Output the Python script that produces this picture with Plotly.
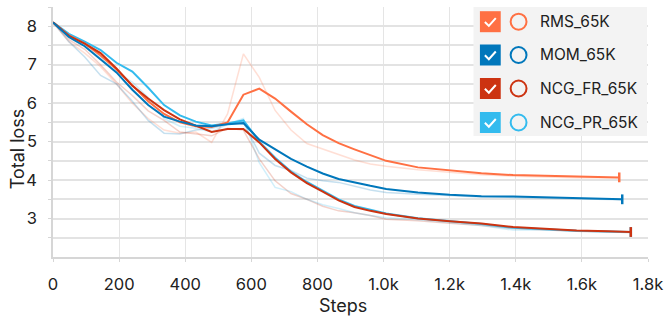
import plotly.graph_objects as go

# ---------------- data ----------------
steps = [0, 48, 96, 144, 192, 240, 288, 336, 384, 432, 480, 528, 576, 624, 672,
         720, 768, 816, 864, 912, 960, 1008, 1104, 1200, 1296, 1392, 1488, 1584, 1680]
last_step = {"RMS_65K": 1713, "MOM_65K": 1722, "NCG_FR_65K": 1748, "NCG_PR_65K": 1748}

rms_smooth = [8.1, 7.76, 7.55, 7.24, 6.88, 6.47, 6.05, 5.72, 5.5, 5.4, 5.38, 5.5, 6.22, 6.38, 6.12,
              5.78, 5.45, 5.17, 4.96, 4.8, 4.65, 4.5, 4.33, 4.25, 4.18, 4.13, 4.11, 4.08, 4.07, 4.07]
mom_smooth = [8.1, 7.72, 7.48, 7.13, 6.8, 6.35, 5.95, 5.65, 5.52, 5.42, 5.4, 5.45, 5.48, 5.05, 4.8,
              4.55, 4.35, 4.17, 4.03, 3.93, 3.85, 3.77, 3.68, 3.62, 3.58, 3.57, 3.55, 3.53, 3.5, 3.5]
fr_smooth = [8.1, 7.75, 7.55, 7.3, 6.9, 6.45, 6.12, 5.82, 5.58, 5.42, 5.25, 5.33, 5.33, 4.98, 4.55,
             4.2, 3.92, 3.7, 3.47, 3.3, 3.2, 3.12, 3.0, 2.93, 2.87, 2.78, 2.73, 2.69, 2.67, 2.65]
pr_smooth = [8.1, 7.8, 7.6, 7.38, 7.05, 6.82, 6.4, 5.95, 5.68, 5.52, 5.42, 5.47, 5.55, 5.0, 4.58,
             4.22, 3.95, 3.72, 3.5, 3.33, 3.22, 3.13, 3.01, 2.93, 2.86, 2.76, 2.72, 2.68, 2.66, 2.65]

rms_raw = [8.1, 7.6, 7.3, 6.95, 6.5, 6.0, 5.6, 5.3, 5.22, 5.25, 4.98, 5.72, 7.28, 6.67, 5.81,
           5.3, 4.95, 4.8, 4.66, 4.52, 4.42, 4.36, 4.27, 4.2, 4.14, 4.1, 4.08, 4.06, 4.06, 4.06]
mom_raw = [8.1, 7.6, 7.2, 6.72, 6.5, 6.05, 5.55, 5.22, 5.2, 5.3, 5.35, 5.45, 5.5, 4.7, 4.38,
           4.25, 4.05, 3.98, 3.94, 3.85, 3.74, 3.68, 3.63, 3.6, 3.56, 3.55, 3.53, 3.51, 3.49, 3.49]
fr_raw = [8.1, 7.65, 7.4, 7.0, 6.55, 6.2, 5.8, 5.55, 5.25, 5.2, 5.15, 5.35, 5.3, 4.55, 3.98,
          3.65, 3.5, 3.32, 3.2, 3.15, 3.08, 2.98, 2.94, 2.88, 2.82, 2.74, 2.7, 2.67, 2.65, 2.64]
pr_raw = [8.1, 7.7, 7.5, 7.2, 6.8, 6.55, 6.15, 5.6, 5.4, 5.35, 5.25, 5.45, 5.6, 4.45, 3.81,
          3.7, 3.5, 3.36, 3.26, 3.15, 3.08, 3.02, 2.97, 2.9, 2.82, 2.7, 2.71, 2.67, 2.65, 2.64]

series_names = ["RMS_65K", "MOM_65K", "NCG_FR_65K", "NCG_PR_65K"]
series_colors = ["#ff7043", "#0077bb", "#cc3311", "#33bbee"]
smooth_vals = {"RMS_65K": rms_smooth, "MOM_65K": mom_smooth,
               "NCG_FR_65K": fr_smooth, "NCG_PR_65K": pr_smooth}
raw_vals = {"RMS_65K": rms_raw, "MOM_65K": mom_raw,
            "NCG_FR_65K": fr_raw, "NCG_PR_65K": pr_raw}

x_tickvals = [0, 200, 400, 600, 800, 1000, 1200, 1400, 1600, 1800]
x_ticktext = ["0", "200", "400", "600", "800", "1.0k", "1.2k", "1.4k", "1.6k", "1.8k"]
y_tickvals = [2.5, 3, 3.5, 4, 4.5, 5, 5.5, 6, 6.5, 7, 7.5, 8, 8.5]
y_ticktext = ["", "3", "", "4", "", "5", "", "6", "", "7", "", "8", ""]

# ---------------- layout geometry ----------------
W, H = 670, 322
ML, MR, MT, MB = 53, 17, 7, 65
PW, PH = W - ML - MR, H - MT - MB


def px(xp):
    return (xp - ML) / PW


def py(yp):
    return (MT + PH - yp) / PH


FONT = "Inter, Roboto, sans-serif"
colmap = dict(zip(series_names, series_colors))

fig = go.Figure()

# raw (faint) lines
for name in series_names:
    xs = steps + [last_step[name]]
    fig.add_trace(go.Scatter(x=xs, y=raw_vals[name], mode="lines",
                             line=dict(color=colmap[name], width=1.5),
                             opacity=0.22, showlegend=False, hoverinfo="skip"))

# smoothed lines
for name in ["NCG_PR_65K", "RMS_65K", "NCG_FR_65K", "MOM_65K"]:
    xs = steps + [last_step[name]]
    fig.add_trace(go.Scatter(x=xs, y=smooth_vals[name], mode="lines",
                             line=dict(color=colmap[name], width=2),
                             name=name, showlegend=False))
    fig.add_trace(go.Scatter(x=[xs[-1]], y=[smooth_vals[name][-1]], mode="markers",
                             marker=dict(symbol="line-ns", size=7,
                                         line=dict(color=colmap[name], width=2.5)),
                             showlegend=False, hoverinfo="skip"))

shapes = []
annotations = []

# custom legend box
shapes.append(dict(type="rect", xref="paper", yref="paper",
                   x0=px(477), x1=px(652), y0=py(136), y1=py(7),
                   fillcolor="#f3f3f3", line=dict(width=0), layer="above"))
row_y = [21.7, 55.0, 88.5, 122.5]
for name, c, ry in zip(series_names, series_colors, row_y):
    # checkbox
    shapes.append(dict(type="rect", xref="paper", yref="paper",
                       x0=px(483.5), x1=px(504.5), y0=py(ry + 10.5), y1=py(ry - 10.5),
                       fillcolor=c, line=dict(width=0), layer="above"))
    cx = 494.0
    path = "M {},{} L {},{} L {},{}".format(
        px(cx - 5.5), py(ry + 0.3), px(cx - 1.5), py(ry + 4.2), px(cx + 5.5), py(ry - 3.5))
    shapes.append(dict(type="path", xref="paper", yref="paper", path=path,
                       line=dict(color="white", width=2), layer="above"))
    # circle
    shapes.append(dict(type="circle", xref="paper", yref="paper",
                       x0=px(514.5), x1=px(530.5), y0=py(ry + 8), y1=py(ry - 8),
                       line=dict(color=c, width=2), fillcolor="rgba(0,0,0,0)", layer="above"))
    annotations.append(dict(xref="paper", yref="paper", x=px(542.5), y=py(ry),
                            text=name, showarrow=False, xanchor="left", yanchor="middle",
                            font=dict(family=FONT, size=15.5, color="#212121")))

# axis titles
annotations.append(dict(xref="paper", yref="paper", x=px(345), y=py(305),
                        text="Steps", showarrow=False, xanchor="center", yanchor="middle",
                        font=dict(family=FONT, size=18, color="#212121")))
annotations.append(dict(xref="paper", yref="paper", x=px(17), y=py(149),
                        text="Total loss", showarrow=False, textangle=-90,
                        xanchor="center", yanchor="middle",
                        font=dict(family=FONT, size=18, color="#212121")))

fig.update_layout(
    width=W, height=H,
    margin=dict(l=ML, r=MR, t=MT, b=MB),
    paper_bgcolor="white", plot_bgcolor="white",
    shapes=shapes, annotations=annotations,
    font=dict(family=FONT, size=16.5, color="#212121"),
    xaxis=dict(range=[0, 1800], tickvals=x_tickvals, ticktext=x_ticktext,
               showgrid=True, gridcolor="#e5e5e5", gridwidth=1,
               showline=True, linecolor="#d6d6d6", linewidth=1.5,
               ticks="outside", ticklen=3, tickcolor="#d6d6d6",
               ticklabelstandoff=8, zeroline=False,
               tickfont=dict(family=FONT, size=16.5, color="#212121")),
    yaxis=dict(range=[2, 8.5], tickvals=y_tickvals, ticktext=y_ticktext,
               showgrid=True, gridcolor="#e3e3e3", gridwidth=1.5,
               showline=True, linecolor="#d6d6d6", linewidth=1.5,
               ticks="outside", ticklen=3, tickcolor="#d6d6d6",
               ticklabelstandoff=8, zeroline=False,
               tickfont=dict(family=FONT, size=16.5, color="#212121")),
)

fig.write_html("out.html")
